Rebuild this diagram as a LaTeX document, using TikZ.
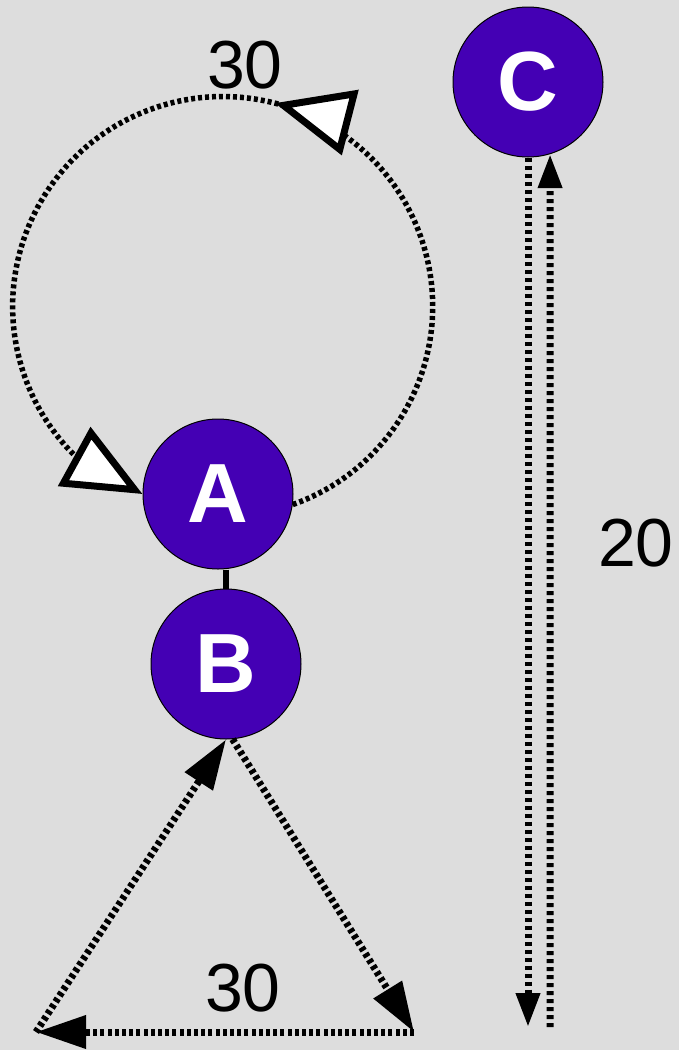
\documentclass[tikz,border=0pt]{standalone}
\usepackage{fontspec}
\setmainfont{Liberation Sans}
\usetikzlibrary{arrows.meta,decorations.markings}
\definecolor{bg}{RGB}{221,221,221}
\definecolor{nodefill}{RGB}{68,0,180}
\begin{document}
\begin{tikzpicture}[x=1pt,y=-1pt,
  vnode/.style={circle, draw=black, line width=1pt, fill=nodefill, minimum size=150pt, inner sep=0pt, text=white, font=\fontsize{84}{84}\selectfont\bfseries},
  lbl/.style={font=\fontsize{68}{68}\selectfont, text=black, inner sep=0pt},
  loopline/.style={line width=5.5pt, dash pattern=on 4pt off 3pt},
  tridot/.style={line width=7pt, dash pattern=on 4pt off 3.2pt},
  cdot/.style={line width=7pt, dash pattern=on 4pt off 4pt},
  bigtip/.style={-{Triangle[length=50pt,width=32pt]}},
  smalltip/.style={-{Triangle[length=34pt,width=23pt]}},
  opentip/.style={-{Triangle[length=78pt,width=66pt,line width=7pt,fill=white]}},
  midtip/.style={decoration={markings, mark=at position 0.461 with {\arrow{Triangle[length=78pt,width=66pt,line width=7pt,fill=white]}}}, postaction={decorate}}
]
\fill[bg] (0,0) rectangle (679,1050);
\useasboundingbox (0,0) rectangle (679,1050);

\node[vnode] (A) at (218,494) {A};
\node[vnode] (B) at (226,664) {B};
\node[vnode] (C) at (528,82) {C};

\coordinate (P1) at (414,1032);
\coordinate (P2) at (36,1032);
\coordinate (c1) at (528,1027);
\coordinate (c2) at (550,1027);

% loop on A
\draw[loopline, opentip, midtip] (A.-8.5) arc[start angle=70.5, end angle=-226.3, radius=210] -- (A.west);

% A -- B
\draw[line width=6.5pt] (A.south -| B.north) -- (B.north);

% triangle under B
\draw[tridot, bigtip] (B.-85) -- (P1);
\draw[tridot, bigtip] (P1) -- (P2);
\draw[tridot, bigtip] (P2) -- (B.south);

% C lines
\draw[cdot, smalltip] (C.south) -- (c1);
\draw[cdot, smalltip] (c2) -- (C.-73);

\node[lbl] (l1) at (245,65) {30};
\node[lbl] (l2) at (243,988) {30};
\node[lbl] (l3) at (636,543) {20};
\end{tikzpicture}
\end{document}
